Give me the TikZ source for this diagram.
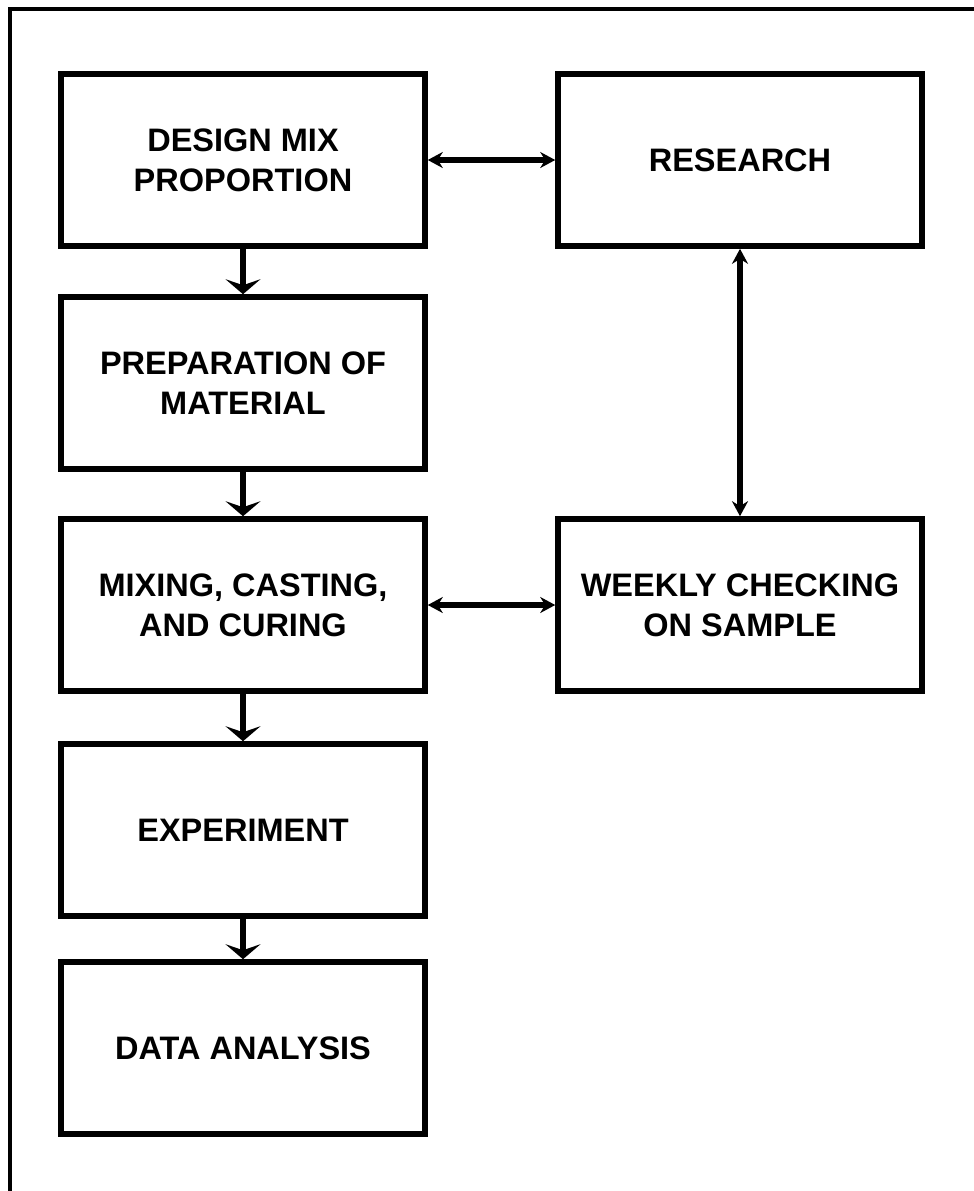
\documentclass[tikz,border=0pt]{standalone}
\usepackage{fontspec}
\setmainfont{Liberation Sans}
\usepackage{tikz}
\usetikzlibrary{arrows.meta}

\tikzset{
	stepbox/.style={draw, line width=3.2pt, minimum width=7.28cm, minimum height=3.44cm, align=center, font=\fontsize{18.5}{22.8}\selectfont\bfseries},
	flow/.style={line width=3pt, -{Stealth[length=0.3cm, width=0.7cm, inset=0.12cm]}},
	link/.style={line width=3pt, {Stealth[length=0.3cm, width=0.32cm]}-{Stealth[length=0.3cm, width=0.32cm]}},
}

\begin{document}
\begin{tikzpicture}[x=0.02cm, y=-0.02cm]
	\useasboundingbox (0,0) rectangle (974,1191);
	\draw[line width=2.2pt] (10,1191) -- (10,9) -- (974,9);

	\node[stepbox] (design) at (243,160) {DESIGN MIX\\PROPORTION};
	\node[stepbox] (research) at (740,160) {RESEARCH};
	\node[stepbox] (prep) at (243,383) {PREPARATION OF\\MATERIAL};
	\node[stepbox] (mixing) at (243,605) {MIXING, CASTING,\\AND CURING};
	\node[stepbox] (weekly) at (740,605) {WEEKLY CHECKING\\ON SAMPLE};
	\node[stepbox] (experiment) at (243,830) {EXPERIMENT};
	\node[stepbox] (data) at (243,1048) {DATA ANALYSIS};

	\foreach \a/\b in {design/prep, prep/mixing, mixing/experiment, experiment/data} {
		\draw[flow] (\a) -- (\b);
	}
	\draw[link] (design) -- (research);
	\draw[link] (research) -- (weekly);
	\draw[link] (mixing) -- (weekly);
\end{tikzpicture}
\end{document}
